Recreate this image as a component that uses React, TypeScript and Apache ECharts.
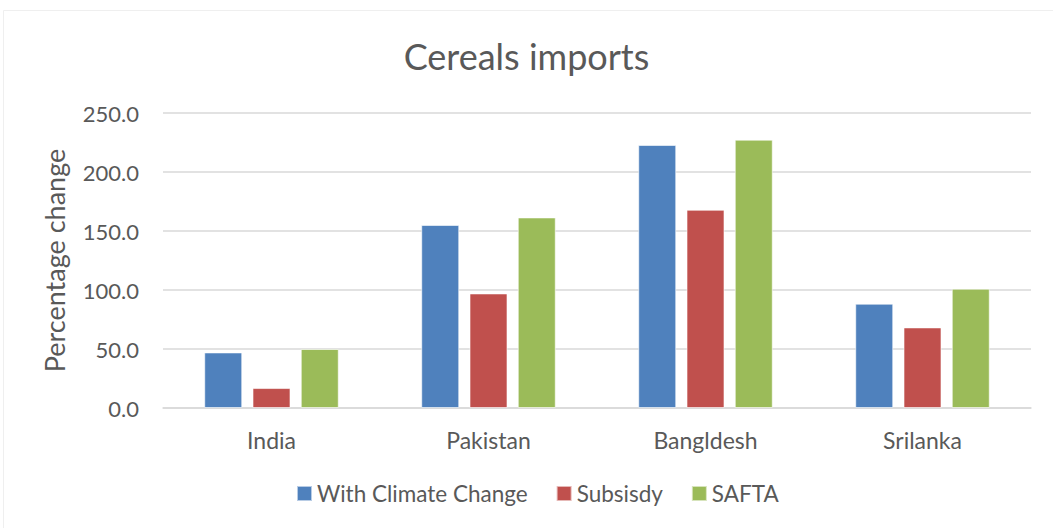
import React, { useEffect, useRef } from "react";
import * as echarts from "echarts";

const categories = ["India", "Pakistan", "Bangldesh", "Srilanka"];
const withClimateChange = [47.1, 155.1, 222.9, 88.4];
const subsidy = [16.9, 97.1, 168.0, 68.3];
const safta = [50.0, 161.5, 227.4, 101.1];
const seriesNames = ["With Climate Change", "Subsisdy", "SAFTA"];
const colors = ["#4F81BD", "#C0504D", "#9BBB59"];

export default function App() {
  const ref = useRef<HTMLDivElement>(null);
  useEffect(() => {
    document.body.style.margin = "0";
    const chart = echarts.init(ref.current!, null, { renderer: "svg" });
    const font = "Lato, sans-serif";
    const datasets = [withClimateChange, subsidy, safta];
    chart.setOption({
      animation: false,
      backgroundColor: "#ffffff",
      title: {
        text: "Cereals imports",
        left: "center",
        top: 33,
        textStyle: { color: "#595959", fontSize: 36, fontWeight: "normal", fontFamily: font },
      },
      graphic: [
        {
          type: "rect",
          shape: { x: 3.5, y: 10.5, width: 1060, height: 530 },
          style: { fill: "none", stroke: "#EFEFEF", lineWidth: 1 },
          silent: true,
        },
      ],
      legend: {
        bottom: 18,
        left: 291,
        itemWidth: 15,
        itemHeight: 15,
        itemGap: 28,
        icon: "rect",
        textStyle: { color: "#595959", fontSize: 22.5, fontFamily: font },
        data: seriesNames,
      },
      grid: { left: 163, right: 22, top: 113, bottom: 120 },
      xAxis: {
        type: "category",
        data: categories,
        axisLine: { lineStyle: { color: "#D9D9D9", width: 1.5 } },
        axisTick: { show: false },
        axisLabel: { color: "#595959", fontSize: 23, fontFamily: font, margin: 20 },
      },
      yAxis: {
        type: "value",
        min: 0,
        max: 250,
        interval: 50,
        name: "Percentage change",
        nameLocation: "middle",
        nameGap: 95,
        nameTextStyle: { color: "#595959", fontSize: 27, fontFamily: font },
        axisLine: { show: false },
        axisTick: { show: false },
        axisLabel: {
          color: "#595959",
          fontSize: 22,
          fontFamily: font,
          margin: 24,
          formatter: (v: number) => v.toFixed(1),
        },
        splitLine: { lineStyle: { color: "#D9D9D9", width: 1.5 } },
      },
      series: datasets.map((d, i) => ({
        name: seriesNames[i],
        type: "bar",
        data: d,
        barWidth: 38,
        barGap: "27%",
        itemStyle: { color: colors[i], borderColor: "rgba(255,255,255,0.6)", borderWidth: 1 },
      })),
    });
    return () => chart.dispose();
  }, []);
  return <div ref={ref} style={{ width: 1053, height: 528 }} />;
}
